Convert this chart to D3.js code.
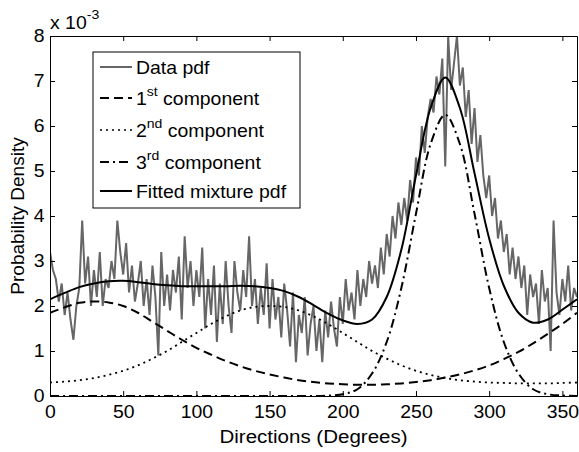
<!DOCTYPE html>
<html>
<head>
<meta charset="utf-8">
<script src="https://cdn.jsdelivr.net/npm/d3@7"></script>
<style>
  body { margin: 0; background: #fff; }
  svg text { font-family: "Liberation Sans", Arial, Helvetica, sans-serif; fill: #000; }
</style>
</head>
<body>
<div class="chart"></div>
<script>
// values in units of 1e-3
var dataDirs = d3.range(0, 361, 2);
var dataPdf = [
  3.2, 2.8, 2.6, 2.1, 2.5, 1.8, 2.3, 1.7, 1.25, 2.0,
  2.4, 3.9, 2.5, 3.1, 2.0, 2.8, 2.2, 3.2, 2.0, 2.6,
  2.4, 3.0, 2.6, 3.9, 3.2, 2.7, 3.4, 2.3, 2.9, 2.1,
  2.5, 3.0, 2.0, 2.6, 1.8, 2.9, 2.2, 0.9, 3.2, 2.0,
  2.7, 1.9, 2.8, 2.3, 3.1, 1.7, 3.55, 2.4, 3.0, 2.0,
  2.8, 2.2, 3.3, 1.5, 2.6, 1.8, 2.9, 1.2, 2.5, 1.6,
  3.0, 2.0, 1.4, 3.0, 2.3, 1.9, 2.8, 2.2, 3.55, 2.0,
  2.6, 1.6, 2.4, 1.8, 2.95, 1.5, 2.6, 1.7, 2.2, 1.3,
  2.5, 1.9, 1.1, 2.3, 0.75, 1.8, 1.4, 2.2, 0.9, 1.6,
  2.0, 1.0, 1.7, 0.75, 1.9, 1.3, 2.1, 1.5, 1.1, 2.2,
  1.6, 2.6, 1.9, 2.3, 1.7, 2.8, 2.0, 2.6, 2.2, 3.0,
  2.5, 2.9, 2.4, 3.3, 2.7, 3.6, 3.1, 4.0, 3.5, 4.3,
  3.8, 4.4, 3.9, 4.8, 4.3, 5.3, 4.9, 6.0, 5.4, 6.2,
  6.6, 6.3, 7.1, 6.7, 7.5, 5.1, 8.0, 6.8, 7.4, 8.0,
  6.9, 7.3, 6.2, 6.8, 5.6, 6.4, 5.2, 5.8, 4.9, 4.4,
  4.9, 4.0, 4.4, 3.5, 3.9, 3.2, 3.6, 2.7, 3.3, 2.6,
  3.1, 2.4, 2.9, 1.8, 2.7, 2.2, 2.5, 1.6, 2.8, 2.1,
  2.4, 1.0, 3.9, 2.3, 1.8, 2.6, 2.1, 2.9, 1.9, 2.4,
  2.2
];

var compDirs = d3.range(0, 361, 10);
var comp1 = [1.85, 1.97, 2.07, 2.1, 2.08, 2.0, 1.85, 1.65, 1.45, 1.25,
  1.07, 0.92, 0.78, 0.66, 0.56, 0.48, 0.41, 0.35, 0.31, 0.28,
  0.26, 0.25, 0.25, 0.26, 0.28, 0.31, 0.35, 0.41, 0.48, 0.57,
  0.68, 0.82, 0.98, 1.17, 1.38, 1.6, 1.85];
var comp2 = [0.3, 0.32, 0.35, 0.4, 0.47, 0.56, 0.68, 0.83, 1.0, 1.2,
  1.4, 1.6, 1.77, 1.9, 1.98, 2.0, 1.98, 1.9, 1.77, 1.6,
  1.4, 1.2, 1.0, 0.83, 0.68, 0.56, 0.47, 0.4, 0.35, 0.32,
  0.3, 0.29, 0.28, 0.28, 0.28, 0.29, 0.3];
var comp3 = [0, 0, 0, 0, 0, 0, 0, 0, 0, 0,
  0, 0, 0, 0, 0, 0, 0, 0, 0, 0.01,
  0.04, 0.15, 0.5, 1.2, 2.4, 4.05, 5.6, 6.25, 5.6, 4.05,
  2.4, 1.2, 0.5, 0.15, 0.04, 0.01, 0];
var fitted = [2.15, 2.29, 2.42, 2.5, 2.55, 2.56, 2.53, 2.49, 2.46, 2.44,
  2.44, 2.44, 2.44, 2.45, 2.44, 2.4, 2.33, 2.2, 2.02, 1.83,
  1.68, 1.6, 1.7, 2.2, 3.25, 4.9, 6.4, 7.08, 6.4, 4.95,
  3.5, 2.45, 1.85, 1.63, 1.7, 1.92, 2.15];

var xTicks = [0, 50, 100, 150, 200, 250, 300, 350];
var yTicks = [0, 1, 2, 3, 4, 5, 6, 7, 8];
var legendLabels = [
  ["Data pdf"], ["1", "st", " component"], ["2", "nd", " component"],
  ["3", "rd", " component"], ["Fitted mixture pdf"]
];

var svgWidth = 579;
var svgHeight = 452;
var margin = { top: 36, right: 2, bottom: 56, left: 50 };
var width = svgWidth - margin.left - margin.right;
var height = svgHeight - margin.top - margin.bottom;
var stretch = 1.08;

var svg = d3.select(".chart")
  .append("svg")
  .attr("width", svgWidth)
  .attr("height", svgHeight);

var chartGroup = svg.append("g")
  .attr("transform", `translate(${margin.left}, ${margin.top})`);

var x = d3.scaleLinear().domain([0, 360]).range([0, width]);
var y = d3.scaleLinear().domain([0, 8]).range([height, 0]);

svg.append("defs").append("clipPath").attr("id", "plotClip")
  .append("rect").attr("width", width).attr("height", height);

var plot = chartGroup.append("g").attr("clip-path", "url(#plotClip)");

var dataLine = d3.line()
  .x((d, i) => x(dataDirs[i]))
  .y(d => y(d));

var smoothLine = d3.line()
  .x((d, i) => x(compDirs[i]))
  .y(d => y(d))
  .curve(d3.curveCatmullRom);

plot.append("path")
  .datum(dataPdf)
  .attr("d", dataLine)
  .attr("fill", "none")
  .attr("stroke", "#666")
  .attr("stroke-width", 2);

var series = [
  { values: comp1, dash: "9,5", w: 2 },
  { values: comp2, dash: "2,4", w: 1.8 },
  { values: comp3, dash: "9,4,2,4", w: 2 },
  { values: fitted, dash: null, w: 2 }
];

series.forEach(function (s) {
  plot.append("path")
    .datum(s.values)
    .attr("d", smoothLine)
    .attr("fill", "none")
    .attr("stroke", "#000")
    .attr("stroke-width", s.w)
    .attr("stroke-dasharray", s.dash);
});

// axes (ticks inward, boxed like matlab)
var bottomAxis = d3.axisBottom(x).tickValues(xTicks).tickSizeInner(-5).tickSizeOuter(0).tickPadding(9);
var leftAxis = d3.axisLeft(y).tickValues(yTicks).tickSizeInner(-5).tickSizeOuter(0).tickPadding(5);
var topAxis = d3.axisTop(x).tickValues(xTicks).tickSizeInner(-5).tickSizeOuter(0).tickFormat("");
var rightAxis = d3.axisRight(y).tickValues(yTicks).tickSizeInner(-5).tickSizeOuter(0).tickFormat("");

var gx = chartGroup.append("g").attr("transform", `translate(0, ${height})`).call(bottomAxis);
var gy = chartGroup.append("g").call(leftAxis);
chartGroup.append("g").call(topAxis);
chartGroup.append("g").attr("transform", `translate(${width}, 0)`).call(rightAxis);

chartGroup.selectAll(".domain, .tick line").attr("stroke", "#000");
[gx, gy].forEach(function (g) {
  g.selectAll("text")
    .attr("font-size", 18)
    .attr("font-family", null)
    .attr("transform", `scale(${stretch},1)`);
});

// exponent
var expo = svg.append("text")
  .attr("transform", `translate(50, 29) scale(${stretch},1)`)
  .attr("font-size", 18);
expo.append("tspan").text("x 10");
expo.append("tspan").attr("font-size", 13).attr("dy", -10).text("-3");

// axis labels
svg.append("text")
  .attr("transform", `translate(${margin.left + width / 2}, 443) scale(${stretch},1)`)
  .attr("text-anchor", "middle")
  .attr("font-size", 19)
  .text("Directions (Degrees)");

svg.append("text")
  .attr("transform", `translate(24, ${margin.top + height / 2}) rotate(-90)`)
  .attr("text-anchor", "middle")
  .attr("font-size", 19)
  .text("Probability Density");

// legend
var legend = svg.append("g");
legend.append("rect")
  .attr("x", 93).attr("y", 52)
  .attr("width", 207).attr("height", 156)
  .attr("fill", "#fff")
  .attr("stroke", "#000");

var rowY = [67, 98, 130, 162, 191];
var legendStyles = [
  { color: "#666", dash: null, w: 2 },
  { color: "#000", dash: "9,5", w: 2 },
  { color: "#000", dash: "2,4", w: 1.5 },
  { color: "#000", dash: "9,4,2,4", w: 2 },
  { color: "#000", dash: null, w: 2 }
];

legendLabels.forEach(function (lab, i) {
  var st = legendStyles[i];
  legend.append("line")
    .attr("x1", 100).attr("x2", 132)
    .attr("y1", rowY[i]).attr("y2", rowY[i])
    .attr("stroke", st.color)
    .attr("stroke-width", st.w)
    .attr("stroke-dasharray", st.dash);
  var t = legend.append("text")
    .attr("transform", `translate(136, ${rowY[i] + 7}) scale(${stretch},1)`)
    .attr("font-size", 18);
  t.append("tspan").text(lab[0]);
  if (lab.length > 1) {
    t.append("tspan").attr("font-size", 13).attr("dy", -9).text(lab[1]);
    t.append("tspan").attr("dy", 9).text(lab[2]);
  }
});
</script>
</body>
</html>
